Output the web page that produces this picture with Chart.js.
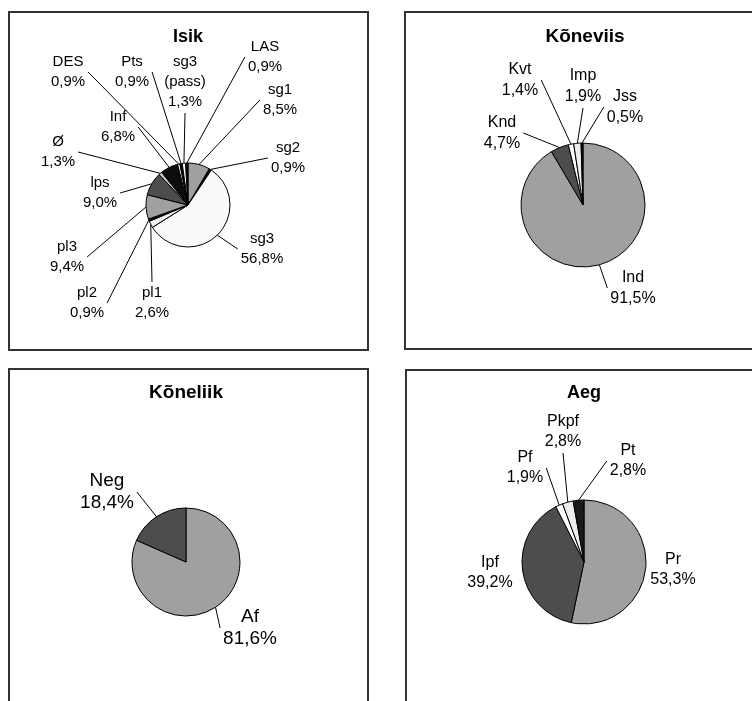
<!DOCTYPE html>
<html>
<head>
<meta charset="utf-8">
<script src="https://cdn.jsdelivr.net/npm/chart.js@4"></script>
<style>
body{margin:0;background:#fff;width:752px;height:701px;overflow:hidden;position:relative}
.box{position:absolute;border:2px solid #333;box-sizing:border-box}
canvas{position:absolute}
</style>
</head>
<body>
<div class="box" style="left:8px;top:11px;width:361px;height:340px"></div>
<div class="box" style="left:404px;top:11px;width:400px;height:339px"></div>
<div class="box" style="left:8px;top:368px;width:361px;height:400px"></div>
<div class="box" style="left:405px;top:369px;width:400px;height:400px"></div>
<canvas id="isik" width="358" height="338" style="left:9px;top:12px"></canvas>
<canvas id="koneviis" width="346" height="337" style="left:406px;top:12px"></canvas>
<canvas id="koneliik" width="358" height="332" style="left:9px;top:369px"></canvas>
<canvas id="aeg" width="346" height="331" style="left:406px;top:370px"></canvas>
<script>
// Isik
const isikCats = ['sg1', 'sg2', 'sg3', 'pl1', 'pl2', 'pl3', 'lps', 'Ø', 'Inf', 'DES', 'Pts', 'sg3\n(pass)', 'LAS'];
const isikVals = [8.5, 0.9, 56.8, 2.6, 0.9, 9.4, 9.0, 1.3, 6.8, 0.9, 0.9, 1.3, 0.9];
// Kõneviis
const koneviisCats = ['Ind', 'Knd', 'Kvt', 'Imp', 'Jss'];
const koneviisVals = [91.5, 4.7, 1.4, 1.9, 0.5];
// Kõneliik
const koneliikCats = ['Af', 'Neg'];
const koneliikVals = [81.6, 18.4];
// Aeg
const aegCats = ['Pr', 'Ipf', 'Pf', 'Pkpf', 'Pt'];
const aegVals = [53.3, 39.2, 1.9, 2.8, 2.8];

const GRAY = '#a0a0a0', DARK = '#4d4d4d', BLACK = '#0d0d0d', WHITE = '#ffffff', LIGHT = '#ededed';

// label block centres, page coordinates
const isikLabelPos = [[280,100],[288,158],[262,249],[152,303],[87,303],[67,257],[100,193],[58,152],[118,127],[68,72],[132,72],[185,82],[265,57]];
const koneviisLabelPos = [[633,288],[502,133],[520,80],[583,86],[625,107]];
const koneliikLabelPos = [[250,628],[107,492]];
const aegLabelPos = [[673,570],[490,573],[525,468],[563,432],[628,461]];

const fmt = v => v.toFixed(1).replace('.', ',') + '%';
const FONT = 'Arial, "Liberation Sans", sans-serif';

const labelPlugin = {
  id: 'pieLabels',
  afterDatasetsDraw(chart, args, o) {
    const ctx = chart.ctx;
    const meta = chart.getDatasetMeta(0);
    const vals = chart.data.datasets[0].data;
    ctx.save();
    // title
    ctx.fillStyle = '#000';
    ctx.font = 'bold ' + o.titleSize + 'px ' + FONT;
    ctx.textAlign = 'center';
    ctx.textBaseline = 'middle';
    ctx.fillText(o.title, o.titleX - o.ox, o.titleY - o.oy);
    ctx.font = o.fontSize + 'px ' + FONT;
    meta.data.forEach((arc, i) => {
      const p = arc.getProps(['x', 'y', 'startAngle', 'endAngle', 'outerRadius'], true);
      const mid = (p.startAngle + p.endAngle) / 2;
      const ax = p.x + p.outerRadius * Math.cos(mid);
      const ay = p.y + p.outerRadius * Math.sin(mid);
      const lines = chart.data.labels[i].split('\n').concat(fmt(vals[i]));
      const cx = o.pos[i][0] - o.ox, cy = o.pos[i][1] - o.oy;
      const w = Math.max(...lines.map(t => ctx.measureText(t).width));
      const h = lines.length * o.lh;
      const l = cx - w / 2 - 3, r = cx + w / 2 + 3, t = cy - h / 2 - 1, b = cy + h / 2 + 1;
      let ex, ey;
      if (ax < l) { ex = l; ey = cy; }
      else if (ax > r) { ex = r; ey = cy; }
      else if (ay > b) { ex = cx; ey = b; }
      else { ex = cx; ey = t; }
      if (Math.hypot(ex - ax, ey - ay) > 12) {
        ctx.strokeStyle = '#000';
        ctx.lineWidth = 1;
        ctx.beginPath();
        ctx.moveTo(ex, ey);
        ctx.lineTo(ax, ay);
        ctx.stroke();
      }
      lines.forEach((txt, k) => {
        ctx.fillText(txt, cx, cy - h / 2 + o.lh * (k + 0.5));
      });
    });
    ctx.restore();
  }
};

function makePie(id, cats, vals, colors, cfg) {
  const cv = document.getElementById(id);
  const W = cv.width, H = cv.height;
  const a = cfg.r + 2;
  new Chart(cv, {
    type: 'pie',
    data: {
      labels: cats,
      datasets: [{ data: vals, backgroundColor: colors, borderColor: '#000', borderWidth: 1 }]
    },
    options: {
      responsive: false,
      animation: false,
      radius: cfg.r,
      events: [],
      layout: { padding: { left: cfg.cx - a, right: W - cfg.cx - a, top: cfg.cy - a, bottom: H - cfg.cy - a } },
      plugins: {
        legend: { display: false },
        tooltip: { enabled: false },
        pieLabels: cfg.labels
      }
    },
    plugins: [labelPlugin]
  });
}

makePie('isik', isikCats, isikVals,
  [GRAY, BLACK, '#fafafa', LIGHT, BLACK, GRAY, DARK, '#cccccc', BLACK, WHITE, BLACK, WHITE, BLACK],
  { cx: 179, cy: 193, r: 42, labels: { title: 'Isik', titleSize: 18, titleX: 188, titleY: 37, ox: 9, oy: 12, pos: isikLabelPos, fontSize: 15, lh: 20 } });

makePie('koneviis', koneviisCats, koneviisVals,
  [GRAY, DARK, WHITE, LIGHT, BLACK],
  { cx: 177, cy: 193, r: 62, labels: { title: 'Kõneviis', titleSize: 19, titleX: 585, titleY: 37, ox: 406, oy: 12, pos: koneviisLabelPos, fontSize: 16, lh: 21 } });

makePie('koneliik', koneliikCats, koneliikVals,
  [GRAY, DARK],
  { cx: 177, cy: 193, r: 54, labels: { title: 'Kõneliik', titleSize: 19, titleX: 186, titleY: 393, ox: 9, oy: 369, pos: koneliikLabelPos, fontSize: 19, lh: 22 } });

makePie('aeg', aegCats, aegVals,
  [GRAY, DARK, WHITE, LIGHT, '#1a1a1a'],
  { cx: 178, cy: 192, r: 62, labels: { title: 'Aeg', titleSize: 18, titleX: 584, titleY: 393, ox: 406, oy: 370, pos: aegLabelPos, fontSize: 16, lh: 20 } });
</script>
</body>
</html>
